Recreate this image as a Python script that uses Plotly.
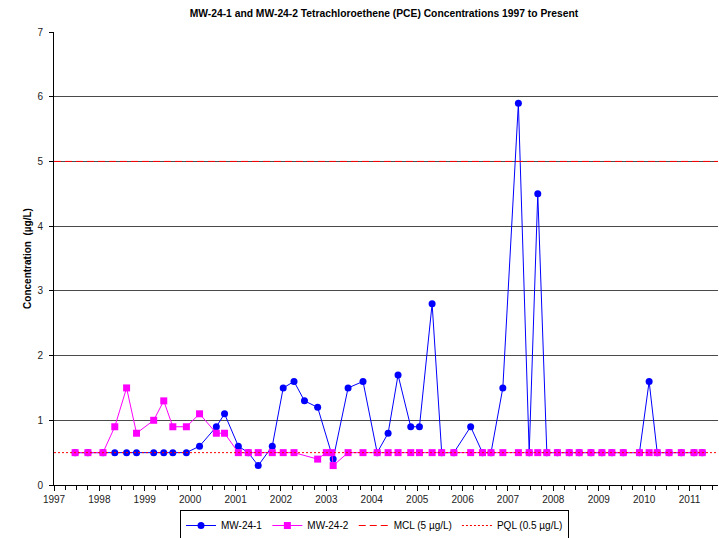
import plotly.graph_objects as go

# Sampling dates and PCE results (ug/L)
mw1_dates = [
    "1997-06-20", "1997-10-01", "1998-01-30", "1998-05-05", "1998-08-08", "1998-10-27",
    "1999-03-14", "1999-06-03", "1999-08-15", "1999-12-02", "2000-03-17", "2000-07-30",
    "2000-10-04", "2001-01-23", "2001-04-13", "2001-07-02", "2001-10-23", "2002-01-19",
    "2002-04-16", "2002-07-09", "2002-10-23", "2003-02-25", "2003-06-25", "2003-10-23",
    "2004-02-14", "2004-05-12", "2004-07-31", "2004-11-10", "2005-01-19", "2005-05-01",
    "2005-07-17", "2005-10-23", "2006-03-07", "2006-06-10", "2006-08-18", "2006-11-21",
    "2007-03-26", "2007-06-21", "2007-08-29", "2007-11-10", "2008-02-03", "2008-05-08",
    "2008-07-27", "2008-10-30", "2009-01-26", "2009-04-16", "2009-07-17", "2009-11-24",
    "2010-02-10", "2010-04-16", "2010-07-20", "2010-10-27", "2011-02-06", "2011-04-13",
]
mw1_values = [
    0.5, 0.5, 0.5, 0.5, 0.5, 0.5,
    0.5, 0.5, 0.5, 0.5, 0.6, 0.9,
    1.1, 0.6, 0.5, 0.3, 0.6, 1.5,
    1.6, 1.3, 1.2, 0.4, 1.5, 1.6,
    0.5, 0.8, 1.7, 0.9, 0.9, 2.8,
    0.5, 0.5, 0.9, 0.5, 0.5, 1.5,
    5.9, 0.5, 4.5, 0.5, 0.5, 0.5,
    0.5, 0.5, 0.5, 0.5, 0.5, 0.5,
    1.6, 0.5, 0.5, 0.5, 0.5, 0.5,
]

mw2_dates = [
    "1997-06-20", "1997-10-01", "1998-01-30", "1998-05-05", "1998-08-08", "1998-10-27",
    "1999-03-14", "1999-06-03", "1999-08-15", "1999-12-02", "2000-03-17", "2000-07-30",
    "2000-10-04", "2001-01-23", "2001-04-13", "2001-07-02", "2001-10-23", "2002-01-19",
    "2002-04-16", "2002-10-23", "2003-01-01", "2003-02-14", "2003-02-25", "2003-06-25",
    "2003-10-23", "2004-02-14", "2004-05-12", "2004-07-31", "2004-11-10", "2005-01-19",
    "2005-05-01", "2005-07-17", "2005-10-23", "2006-03-07", "2006-06-10", "2006-08-18",
    "2006-11-21", "2007-03-26", "2007-06-21", "2007-08-29", "2007-11-10", "2008-02-03",
    "2008-05-08", "2008-07-27", "2008-10-30", "2009-01-26", "2009-04-16", "2009-07-17",
    "2009-11-24", "2010-02-10", "2010-04-16", "2010-07-20", "2010-10-27", "2011-02-06",
    "2011-04-13",
]
mw2_values = [
    0.5, 0.5, 0.5, 0.9, 1.5, 0.8,
    1.0, 1.3, 0.9, 0.9, 1.1, 0.8,
    0.8, 0.5, 0.5, 0.5, 0.5, 0.5,
    0.5, 0.4, 0.5, 0.5, 0.3, 0.5,
    0.5, 0.5, 0.5, 0.5, 0.5, 0.5,
    0.5, 0.5, 0.5, 0.5, 0.5, 0.5,
    0.5, 0.5, 0.5, 0.5, 0.5, 0.5,
    0.5, 0.5, 0.5, 0.5, 0.5, 0.5,
    0.5, 0.5, 0.5, 0.5, 0.5, 0.5,
    0.5,
]

# Regulatory limits (ug/L)
MCL_VALUE = 5
PQL_VALUE = 0.5

X_START = "1997-01-01"
X_END = "2011-08-18"

fig = go.Figure()

fig.add_trace(go.Scatter(
    x=mw1_dates, y=mw1_values, name="MW-24-1", mode="lines+markers",
    line=dict(color="#0000FF", width=1),
    marker=dict(symbol="circle", size=7, color="#0000FF"),
))
fig.add_trace(go.Scatter(
    x=mw2_dates, y=mw2_values, name="MW-24-2", mode="lines+markers",
    line=dict(color="#FF00FF", width=1),
    marker=dict(symbol="square", size=7, color="#FF00FF"),
))
fig.add_trace(go.Scatter(
    x=[X_START, X_END], y=[MCL_VALUE, MCL_VALUE], name="MCL (5 µg/L)", mode="lines",
    line=dict(color="#FF0000", width=1, dash="7px,4px"),
))
fig.add_trace(go.Scatter(
    x=[X_START, X_END], y=[PQL_VALUE, PQL_VALUE], name="PQL (0.5 µg/L)", mode="lines",
    line=dict(color="#FF0000", width=1, dash="2px,2px"),
))

fig.update_layout(
    width=719, height=538,
    margin=dict(l=54, r=1, t=32, b=53),
    paper_bgcolor="white", plot_bgcolor="white",
    font=dict(family="Arial, Liberation Sans, sans-serif", size=10, color="#000000"),
    title=dict(
        text="<b>MW-24-1 and MW-24-2 Tetrachloroethene (PCE) Concentrations 1997 to Present</b>",
        font=dict(family="Liberation Sans Narrow, Arial Narrow, Arial, sans-serif", size=10.3, color="#000000"),
        x=0.534, xanchor="center", y=0.975, yanchor="middle",
    ),
    showlegend=True,
    legend=dict(
        orientation="h",
        xref="container", yref="container",
        x=180 / 719, xanchor="left",
        y=1 - 510 / 538, yanchor="top",
        bordercolor="#000000", borderwidth=1, bgcolor="white",
        font=dict(size=10, color="#000000"),
        itemwidth=30, tracegroupgap=0,
    ),
    xaxis=dict(
        type="date",
        range=[X_START, X_END],
        dtick="M12", tick0="1997-01-01", tickformat="%Y",
        ticks="outside", ticklen=5, tickcolor="#000000",
        showline=True, linecolor="#000000", linewidth=1,
        showgrid=False, zeroline=False,
        tickfont=dict(size=10, color="#222222"),
        minor=dict(dtick="M3", ticks="outside", ticklen=4, tickcolor="#000000", showgrid=False),
    ),
    yaxis=dict(
        range=[0, 7], dtick=1,
        ticks="outside", ticklen=4, tickcolor="#000000",
        ticklabelstandoff=4,
        showline=True, linecolor="#000000", linewidth=1,
        showgrid=True, gridcolor="#4a4a4a", gridwidth=1,
        zeroline=False,
        tickfont=dict(size=10, color="#222222"),
        title=dict(text="<b>Concentration  (µg/L)</b>", font=dict(size=10, color="#000000"), standoff=3),
    ),
)

fig.write_html("out.html")
